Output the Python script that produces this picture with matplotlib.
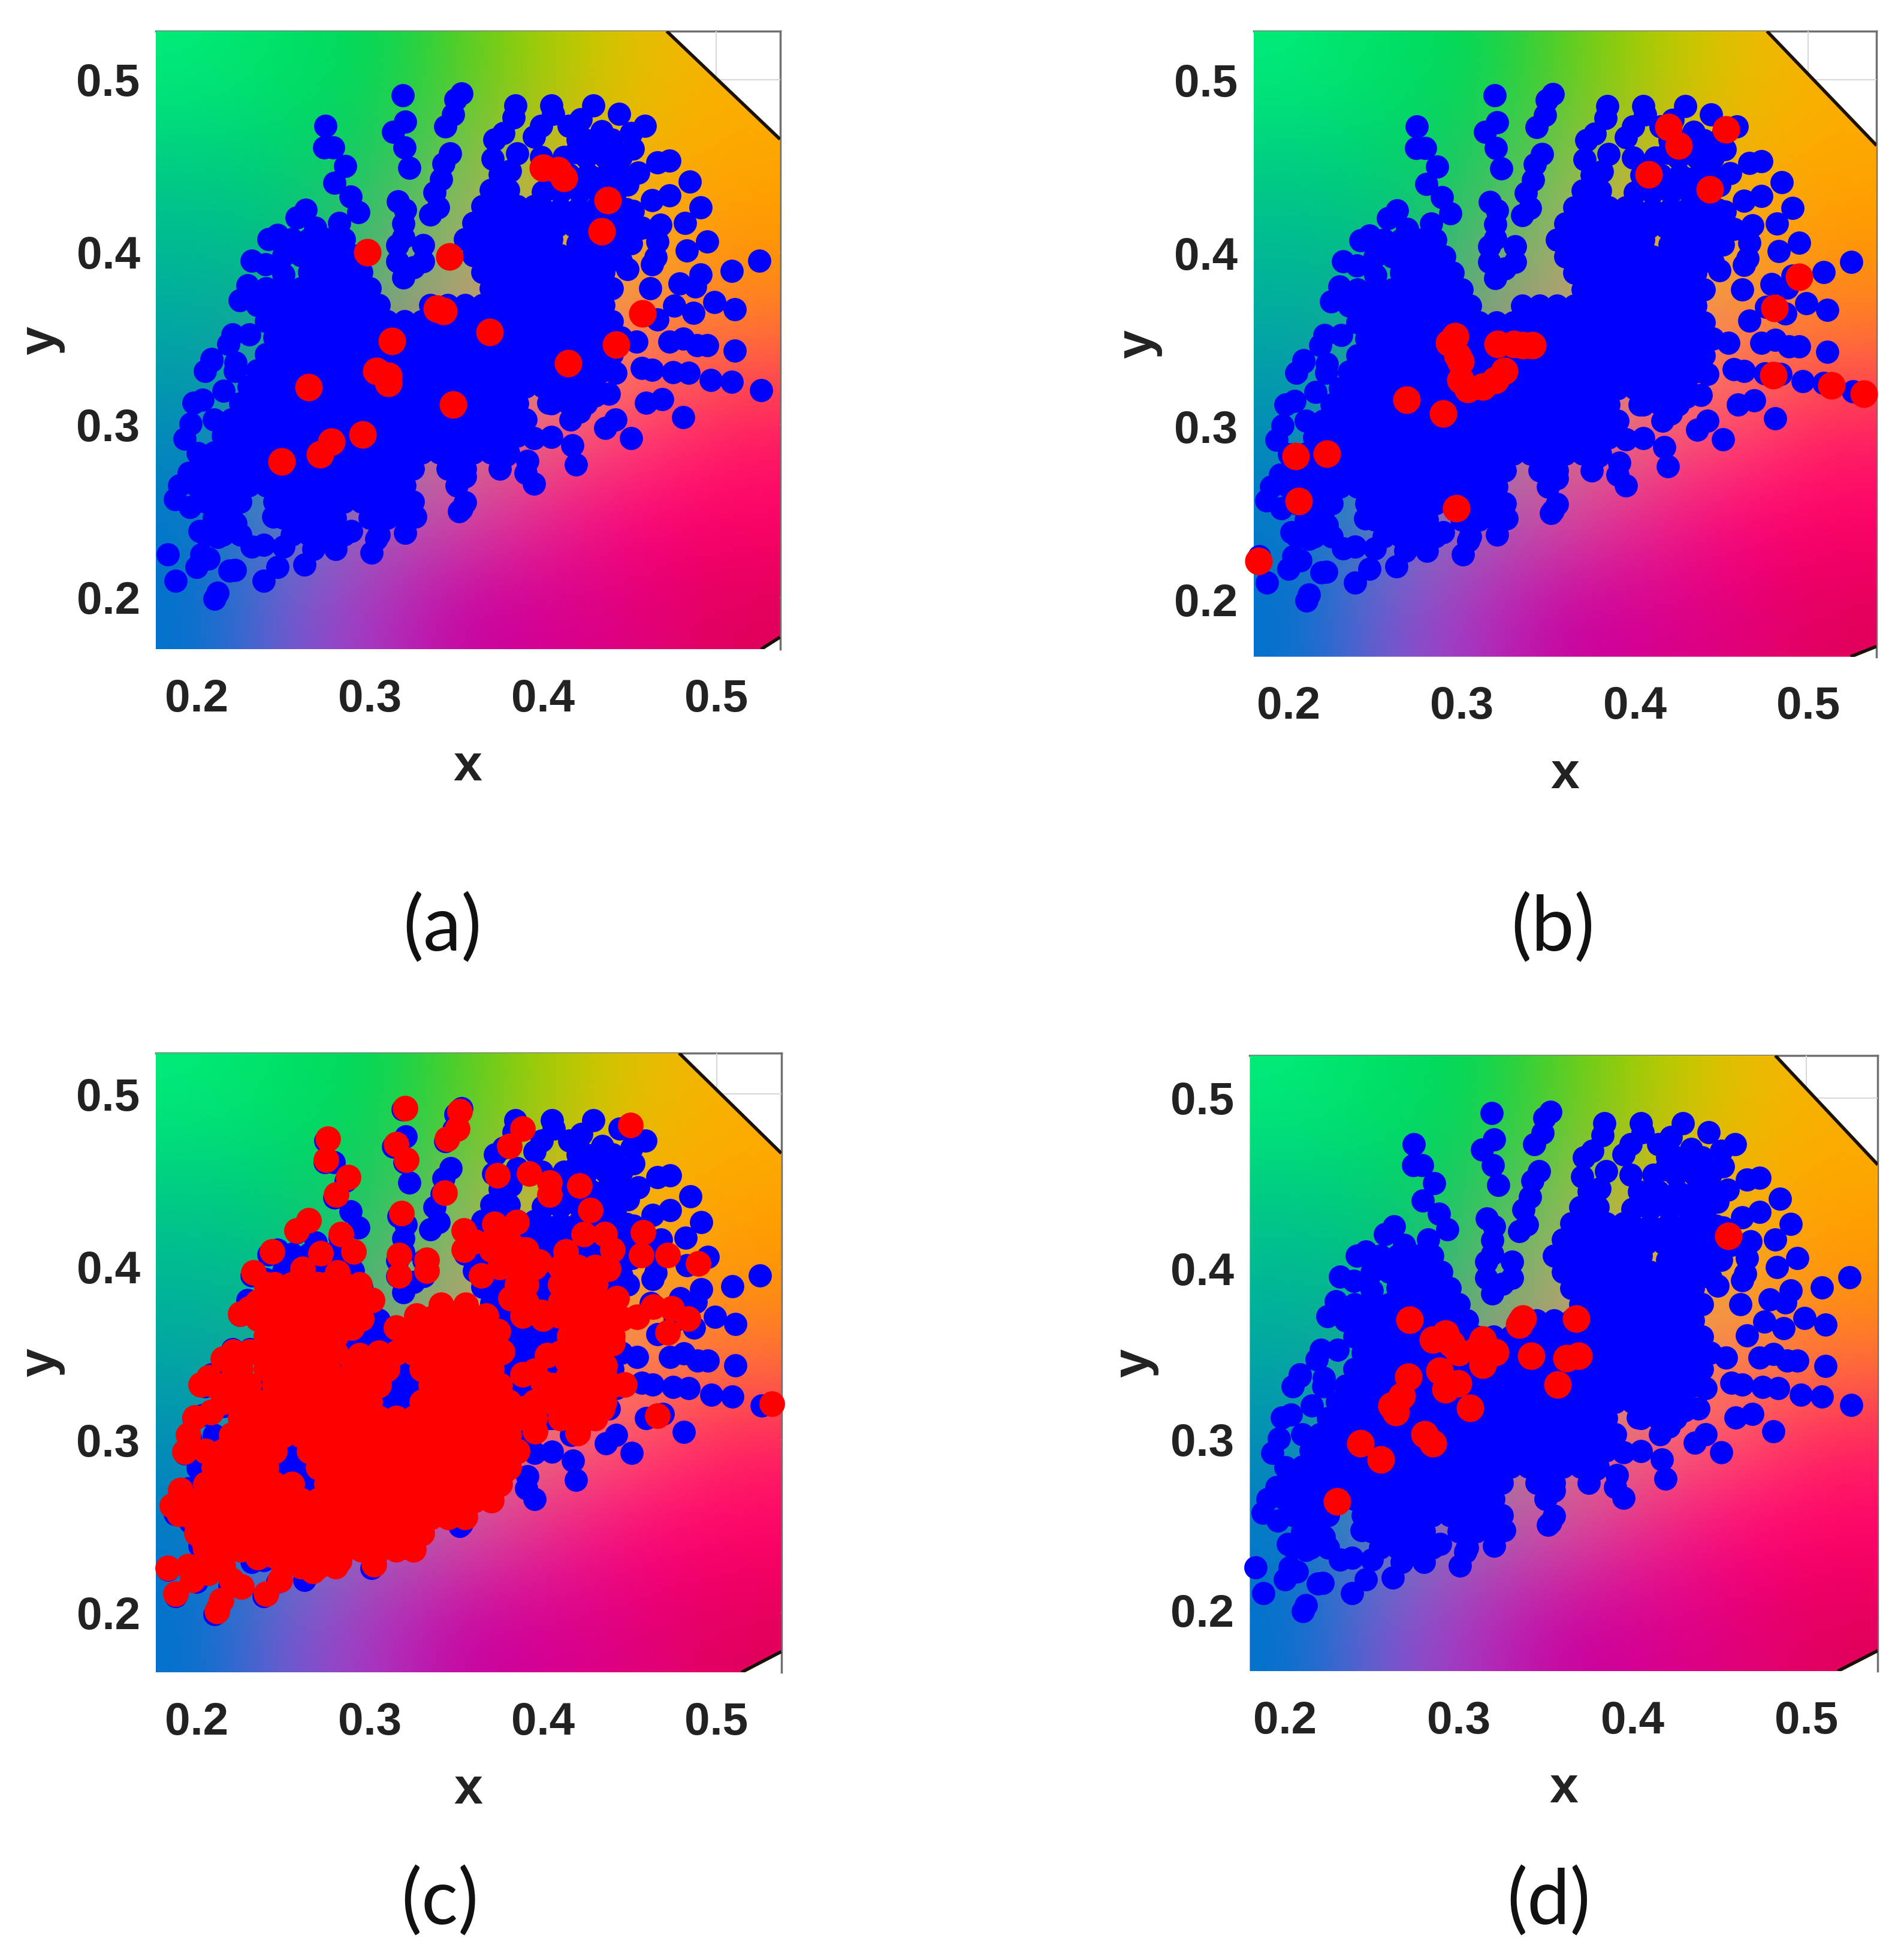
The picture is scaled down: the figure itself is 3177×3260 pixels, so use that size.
import numpy as np
import matplotlib
matplotlib.use('Agg')
import matplotlib.pyplot as plt
from matplotlib.patches import Polygon

W, H = 3177, 3260

# Blue points on the edge of the cloud
blue_edge = [
    (.319,.491),(.2743,.473),(.2738,.4606),(.279,.4606),(.2859,.450),(.2795,.440),(.2888,.4322),(.2934,.423),
    (.2628,.4247),(.2576,.420),(.2686,.414),(.2824,.417),(.2467,.410),(.2415,.4074),(.2478,.4074),(.2317,.3952),
    (.2397,.3929),(.2501,.3872),(.2294,.3808),(.2247,.3721),(.2207,.3525),(.2305,.3525),(.2184,.3467),(.2086,.338),
    (.3205,.4756),(.3135,.4698),(.3199,.4606),(.3228,.449),(.3164,.4293),(.3205,.4247),(.3193,.4166),(.3193,.4085),
    (.3159,.4039),(.3159,.3947),(.3193,.3854),(.3309,.4039),(.3309,.3947),(.3251,.3912),
    (.3528,.4918),(.3493,.4883),(.3482,.4796),(.3435,.4727),(.3464,.4571),(.3424,.4513),(.3412,.4421),(.3372,.4345),
    (.3395,.4259),(.3349,.4218),
    (.384,.485),(.383,.478),(.377,.469),(.372,.465),(.371,.454),(.385,.457),(.381,.447),(.405,.485),(.406,.480),
    (.399,.473),(.395,.467),(.415,.473),(.422,.477),(.429,.485),(.444,.480),(.459,.473),(.451,.469),(.452,.460),
    (.434,.470),(.439,.456),(.442,.451),(.423,.466),(.419,.458),(.399,.455),(.466,.452),(.473,.453),(.485,.441),
    (.455,.446),(.449,.439),(.430,.443),(.463,.430),(.473,.433),(.491,.426),(.482,.417),(.452,.424),(.468,.416),
    (.457,.414),(.495,.406),(.483,.401),(.466,.406),(.451,.405),(.465,.397),(.463,.393),(.449,.390),(.525,.395),
    (.509,.389),(.491,.387),(.479,.382),(.488,.380),(.462,.379),(.499,.371),(.511,.367),(.487,.365),(.476,.369),
    (.466,.361),(.473,.348),(.481,.350),(.489,.346),(.495,.346),(.511,.343),(.454,.348),
    (.457,.333),(.463,.332),(.475,.3305),(.484,.330),(.497,.326),(.509,.325),(.526,.320),(.4595,.3126),(.469,.315),
    (.481,.3045),(.442,.303),(.436,.298),(.451,.2924),(.421,.3074),(.416,.303),(.405,.293),(.395,.2924),(.417,.288),
    (.419,.277),(.403,.3126),(.438,.318),(.430,.317),(.442,.330),(.391,.279),(.390,.272),(.395,.2658),(.379,.2826),
    (.355,.27),(.355,.255),(.3516,.25),
    (.2086,.337),(.2046,.331),(.2224,.336),(.222,.331),(.2155,.3196),(.2034,.3144),(.1982,.3126),(.1965,.3005),
    (.193,.292),(.2005,.2837),(.1953,.272),(.19,.265),(.1873,.257),(.1959,.2525),(.206,.256),(.2144,.2514),
    (.2017,.2386),(.212,.235),(.2224,.243),(.1832,.2248),(.2028,.2248),(.2069,.2224),(.2,.2178),(.1878,.2097),
    (.2219,.216),(.219,.2155),(.212,.2028),(.2103,.1993),(.2317,.2294),(.2386,.2305),(.2386,.2097),(.2467,.2178),
    (.2622,.219),(.2801,.2282),(.3009,.2259),(.3038,.234),(.3205,.2375),(.3262,.2467),(.2443,.2467),(.25,.2294),
    (.2674,.2282),(.2893,.2386),(.3528,.2513),
]

# Blue points filling the dense middle, one list per row of the cloud
blue_row_y = [.465,.455,.445,.435,.425,.415,.405,.395,.445,.436,.4265,.417,.4075,.398,.3885,.379,.3695,.36,.3505,.341,
              .3315,.322,.3125,.303,.2935,.284,.2745,.265,.2555,.246,.2365]
blue_row_x = [
    [.42,.43,.44],
    [.412,.425,.436,.445],
    [.404,.415,.426,.437,.445],
    [.400,.410,.421,.432,.442],
    [.400,.41,.42,.43,.44,.448],
    [.408,.418,.428,.437,.445],
    [.42,.43,.44,.448],
    [.428,.438,.445],
    [.375],
    [.37,.38],
    [.365,.375,.385,.395],
    [.36,.37,.38,.39,.40],
    [.255,.265,.275,.285,.355,.365,.375,.385,.395,.405],
    [.25,.26,.27,.28,.29,.36,.37,.38,.39,.40,.41,.42],
    [.265,.275,.285,.295,.365,.375,.385,.395,.405,.415,.425,.435],
    [.24,.25,.26,.27,.28,.29,.30,.37,.38,.39,.40,.41,.42,.43,.44],
    [.235,.245,.255,.265,.275,.285,.295,.305,.335,.345,.355,.365,.375,.385,.395,.405,.415,.425,.435],
    [.24,.25,.26,.27,.28,.29,.30,.31,.32,.33,.34,.35,.36,.37,.38,.39,.40,.41,.42,.43,.44],
    [.245,.255,.265,.275,.285,.295,.305,.315,.325,.335,.345,.355,.365,.375,.385,.395,.405,.415,.425,.435,.445],
    [.24,.25,.26,.27,.28,.29,.30,.31,.32,.33,.34,.35,.36,.37,.38,.39,.40,.41,.42,.43,.44],
    [.235,.245,.255,.265,.275,.285,.295,.305,.315,.325,.335,.345,.355,.365,.375,.385,.395,.405,.415,.425,.435],
    [.23,.24,.25,.26,.27,.28,.29,.30,.31,.32,.33,.34,.35,.36,.37,.38,.39,.40,.41,.42,.43],
    [.225,.235,.245,.255,.265,.275,.285,.295,.305,.315,.325,.335,.345,.355,.365,.375,.385,.405,.415,.425],
    [.21,.22,.23,.24,.25,.26,.27,.28,.29,.30,.31,.32,.33,.34,.35,.36,.37,.38,.39],
    [.215,.225,.235,.245,.255,.265,.275,.285,.295,.305,.315,.325,.335,.345,.355,.365,.375,.385],
    [.21,.22,.23,.24,.25,.26,.27,.28,.29,.30,.31,.32,.33,.34,.35,.36,.37,.38],
    [.205,.215,.225,.235,.245,.255,.265,.275,.285,.295,.305,.315,.325,.345,.355,.375],
    [.20,.21,.22,.23,.24,.25,.26,.27,.28,.29,.30,.31,.32,.35],
    [.205,.215,.225,.245,.255,.265,.275,.285,.295,.305,.315,.325],
    [.21,.22,.25,.26,.27,.28,.30,.31,.32],
    [.205,.215,.225,.255,.265,.275,.285,.305],
]

red_a = [(.2986,.3998),(.346,.3976),(.4,.4488),(.4086,.4474),(.4122,.443),(.4374,.43),(.4338,.412),(.4576,.3645),
         (.4424,.3464),(.4144,.3356),(.3691,.3536),(.3388,.3673),(.3424,.3659),(.3129,.3486),(.3036,.3313),
         (.3108,.3284),(.3108,.3241),(.2647,.3219),(.3482,.3118),(.2957,.2945),(.2777,.2902),(.2712,.283),
         (.2489,.2787)]

red_b = [(.4194,.4727),(.4252,.4619),(.4525,.4712),(.4079,.4453),(.4432,.4367),(.495,.3863),(.4806,.3683),
         (.4799,.3295),(.5137,.3237),(.5324,.3187),(.2892,.3072),(.2683,.3151),(.2928,.3482),(.2964,.3518),
         (.2978,.341),(.2993,.3374),(.3209,.3475),(.3302,.3475),(.341,.3468),(.3353,.3468),(.3245,.3317),
         (.3194,.3266),(.3122,.323),(.3036,.3216),(.2993,.3266),(.2043,.2827),(.2223,.2842),(.2058,.2568),
         (.2971,.2525),(.1827,.2223)]

red_c_edge = [
    (.3204,.492),(.3517,.490),(.3505,.480),(.3446,.474),(.2756,.474),(.2747,.462),(.3152,.471),(.3211,.462),
    (.2874,.452),(.2806,.442),(.343,.443),(.3736,.453),(.3882,.480),(.3806,.470),(.3917,.454),(.4035,.449),
    (.4035,.442),(.4211,.447),(.4505,.482),(.3183,.431),(.427,.433),(.2646,.427),(.2575,.421),(.2834,.419),
    (.354,.421),(.3717,.425),(.3846,.426),(.4576,.420),(.4235,.419),(.4353,.419),(.2434,.409),(.2716,.408),
    (.2905,.409),(.4129,.409),(.44,.410),(.4564,.407),(.4717,.407),(.4894,.402),(.354,.410),(.3168,.407),
    (.3328,.404),(.3882,.410),(.3976,.403),(.2611,.399),(.2811,.397),(.2328,.397),(.3168,.395),(.3328,.398),
    (.3642,.395),(.4117,.393),(.4258,.394),(.4376,.399),(.2399,.390),(.294,.390),(.2705,.385),(.2469,.382),
    (.3011,.381),(.4423,.382),(.3811,.382),(.4141,.383),(.2869,.381),(.4635,.377),(.4741,.376),(.4541,.371),
    (.4835,.370),(.4717,.362),(.225,.373),(.2304,.376),(.2563,.374),(.2399,.367),(.294,.374),(.2752,.370),
    (.4305,.367),(.4094,.372),(.3882,.372),(.3988,.374),(.3411,.378),(.3552,.378),(.367,.372),(.327,.372),
    (.3152,.365),(.374,.363),(.2893,.365),(.2705,.361),(.2587,.365),(.4258,.358),(.44,.356),(.221,.351),
    (.2304,.351),(.2151,.347),(.2446,.347),(.2658,.347),(.294,.349),(.4023,.349),(.4141,.345),(.4353,.343),
    (.4211,.351),(.3764,.351),(.2069,.336),(.2022,.332),(.2211,.336),(.254,.340),(.2634,.336),(.2775,.338),
    (.3882,.338),(.3999,.333),(.4141,.336),(.4258,.338),(.447,.332),(.4329,.331),(.4341,.318),(.4141,.318),
    (.4659,.314),(.532,.321),(.42,.304),(.3952,.305),(.3882,.318),(.3811,.293),(.374,.302),(.1987,.313),
    (.2081,.316),(.1951,.303),(.1928,.293),(.1904,.271),(.1857,.262),(.1975,.255),(.19,.257),(.2045,.240),
    (.2163,.239),(.1834,.226),(.1975,.219),(.2069,.223),(.1876,.211),(.2199,.219),(.2257,.215),(.2116,.201),
    (.214,.207),(.2399,.211),(.2481,.219),(.267,.224),(.2352,.232),(.2446,.233),(.2563,.237),(.2822,.230),
    (.2893,.241),(.2705,.246),(.3022,.228),(.3218,.239),(.3246,.255),(.3505,.267),(.3587,.271),(.3434,.275),
    (.3646,.284),(.36,.415),(.37,.415),(.38,.415),(.39,.41),
]

red_c_row_y = [.41,.40,.39,.38,.37,.36,.3505,.341,.3315,.322,.3125,.303,.2935,.284,.2745,.265,.2555,.246,.2365,.227,
               .39,.38,.37,.36,.3505,.341,.3315,.322,.34,.33,.32,.31]
red_c_row_x = [
    [.37,.38],
    [.375,.385,.395,.41,.42,.43],
    [.245,.255,.275,.285,.385,.39,.41,.42,.43],
    [.24,.25,.26,.27,.28,.29,.39,.41,.425,.435],
    [.235,.245,.265,.275,.285,.295,.335,.345,.355,.365,.40,.42,.435,.445],
    [.32,.33,.34,.35,.36,.37,.415,.43,.44],
    [.305,.315,.325,.335,.345,.355,.365,.375,.41,.42,.43],
    [.29,.30,.31,.33,.34,.35,.36,.37,.425,.435],
    [.275,.285,.295,.305,.335,.345,.355,.365,.375,.405,.42,.43,.44],
    [.24,.25,.26,.27,.28,.29,.30,.33,.34,.35,.36,.37,.38,.395,.405,.425,.435],
    [.225,.235,.245,.255,.265,.275,.285,.295,.305,.315,.325,.335,.345,.355,.365,.375,.385,.395,.41,.43],
    [.22,.23,.24,.25,.26,.27,.28,.29,.30,.31,.32,.33,.34,.35,.36,.37,.38],
    [.205,.215,.225,.235,.245,.265,.275,.285,.295,.305,.315,.325,.335,.345,.355,.365,.375,.385],
    [.21,.22,.23,.24,.27,.28,.29,.30,.31,.32,.33,.34,.35,.36,.37,.38],
    [.205,.215,.225,.235,.245,.255,.275,.285,.295,.305,.315,.325,.335,.345,.355,.365,.375],
    [.20,.21,.22,.23,.24,.25,.26,.27,.28,.29,.30,.31,.32,.33,.34,.35,.36,.37],
    [.205,.215,.225,.235,.245,.255,.265,.275,.285,.295,.305,.315,.325,.335,.345,.355],
    [.20,.21,.22,.23,.24,.25,.26,.27,.28,.29,.30,.31,.32,.33],
    [.205,.215,.225,.235,.245,.255,.265,.275,.285,.295,.305,.315,.325],
    [.195,.205,.215,.25,.26,.27,.28],
    [.26,.27,.28],
    [.235,.245,.255,.265,.275],
    [.25,.26,.27,.28],
    [.24,.25,.26,.27,.28],
    [.235,.25,.26,.27,.28],
    [.225,.24,.25,.26,.27],
    [.21,.22,.23,.245,.255,.265],
    [.215,.225,.235],
    [.395],
    [.41,.43],
    [.415],
    [.42],
]

red_d = [(.4552,.419),(.2717,.3701),(.3677,.3708),(.3369,.3708),(.3348,.3672),(.2853,.3584),(.2925,.362),(.314,.3584),
         (.3,.351),(.2960,.356),(.311,.353),(.3419,.3489),(.362,.3474),(.3692,.3489),(.357,.3321),(.271,.3365),
         (.2674,.3255),(.2616,.3197),(.264,.316),(.2889,.3401),(.2925,.3292),(.3068,.3183),(.2996,.3328),
         (.314,.3438),(.2437,.2978),(.2552,.2883),(.2803,.3029),(.2853,.2978),(.2301,.2635),(.3211,.3511)]

# Background colours, on this grid of x and y
bg_x = [.176,.23,.29,.35,.41,.47,.54]
bg_y = [.53,.46,.40,.34,.28,.22,.17]
bg_rgb = [
    [(0,235,120),(0,225,100),(0,215,90),(90,205,30),(175,205,0),(235,190,0),(250,175,0)],
    [(0,205,130),(0,210,115),(30,200,90),(130,190,90),(205,180,30),(250,175,0),(255,165,0)],
    [(0,185,150),(0,190,130),(90,180,110),(170,170,110),(210,170,80),(250,165,40),(255,150,0)],
    [(0,165,165),(40,160,150),(140,150,130),(190,145,120),(240,140,100),(255,125,80),(255,110,60)],
    [(0,140,185),(80,140,170),(150,125,150),(210,115,140),(245,100,120),(255,70,110),(255,30,100)],
    [(0,120,200),(95,125,200),(165,95,185),(210,75,165),(235,30,140),(255,0,120),(255,0,105)],
    [(0,115,205),(120,90,210),(175,50,190),(200,0,160),(215,0,145),(225,0,120),(225,0,90)],
]

ticks = [0.2, 0.3, 0.4, 0.5]
panel_names = ['(a)', '(b)', '(c)', '(d)']
# axes box in reference pixels of the shrunk view: left, right, top, bottom
boxes = [(125,626,25,521), (1006,1506,25,527), (125,627,845,1342), (1003,1507,847,1341)]
xlims = [(.1763,.537), (.1799,.5396), (.1763,.5374), (.1799,.5412)]
ylims = [(.170,.528), (.1669,.5281), (.1655,.5238), (.1642,.5248)]
label_pos = [(355,745), (1246,745), (353,1526), (1243,1526)]
# how far the diagonal corners cut into the field
top_cut_x = [.0655, .0633, .059, .059]
top_cut_y = [.0626, .066, .058, .064]
low_cut_x = [.011, .015, .023, .023]
low_cut_y = [.007, .006, .012, .012]


def rows_to_points(row_y, row_x):
    pts = []
    for y, xs in zip(row_y, row_x):
        pts += [(x, y) for x in xs]
    return pts


blue = np.array(blue_edge + rows_to_points(blue_row_y, blue_row_x))
red_c = red_c_edge + rows_to_points(red_c_row_y, red_c_row_x)
reds = [red_a, red_b, red_c, red_d]

SW, SH = 1528, 1568
fig = plt.figure(figsize=(W / 100, H / 100), dpi=100, facecolor='white')
font = ['Liberation Sans', 'DejaVu Sans']

for i in range(4):
    l, r, t, b = boxes[i]
    ax = fig.add_axes([l / SW, 1 - b / SH, (r - l) / SW, (b - t) / SH])
    x0, x1 = xlims[i]
    y0, y1 = ylims[i]

    # cut-off corners of the colour field
    tx = x1 - top_cut_x[i]
    ty = y1 - top_cut_y[i]
    bx = x1 - low_cut_x[i]
    by = y0 + low_cut_y[i]
    outline = [(x0,y0), (bx,y0), (x1,by), (x1,ty), (tx,y1), (x0,y1)]
    im = ax.imshow(np.array(bg_rgb, dtype=np.uint8), extent=(x0, x1, y0, y1), aspect='auto',
                   interpolation='bicubic', zorder=1)
    clip = Polygon(outline, transform=ax.transData, facecolor='none', edgecolor='none')
    ax.add_patch(clip)
    im.set_clip_path(clip)
    ax.plot([tx, x1], [y1, ty], color='#1a1208', lw=4, zorder=2, solid_capstyle='butt')
    ax.plot([bx, x1], [y0, by], color='#1a1208', lw=4, zorder=2, solid_capstyle='butt')

    ax.grid(True, color='#d8d8d8', lw=1.5, zorder=0)
    ax.set_axisbelow(True)
    ax.scatter(blue[:, 0], blue[:, 1], s=780, c='#0000ff', linewidths=0, zorder=3, clip_on=False)
    pts = np.array(reds[i])
    ax.scatter(pts[:, 0], pts[:, 1], s=950 if i == 2 else 1100, c='#ff0000', linewidths=0, zorder=4, clip_on=False)

    ax.set_xlim(x0, x1)
    ax.set_ylim(y0, y1)
    ax.set_xticks(ticks)
    ax.set_yticks(ticks)
    ax.set_xticklabels([f'{v:.1f}' for v in ticks], family=font, fontweight='bold', fontsize=55, color='#222222')
    ax.set_yticklabels([f'{v:.1f}' for v in ticks], family=font, fontweight='bold', fontsize=55, color='#222222')
    ax.tick_params(axis='x', length=0, pad=35)
    ax.tick_params(axis='y', length=0, pad=19)
    ax.set_xlabel('x', family=font, fontweight='bold', fontsize=62, color='#222222', labelpad=27)
    ax.set_ylabel('y', family=font, fontweight='bold', fontsize=62, color='#222222', labelpad=14)
    for name in ['left', 'bottom']:
        ax.spines[name].set_visible(False)
    for name in ['top', 'right']:
        ax.spines[name].set_color('#707070')
        ax.spines[name].set_linewidth(2.5)
        ax.spines[name].set_zorder(0.5)

    fig.text(label_pos[i][0] / SW, 1 - label_pos[i][1] / SH, panel_names[i], family=['Lato', 'DejaVu Sans'],
             fontsize=92, color='#111111', ha='center', va='center')

fig.savefig('out.png', dpi=100, facecolor='white')
